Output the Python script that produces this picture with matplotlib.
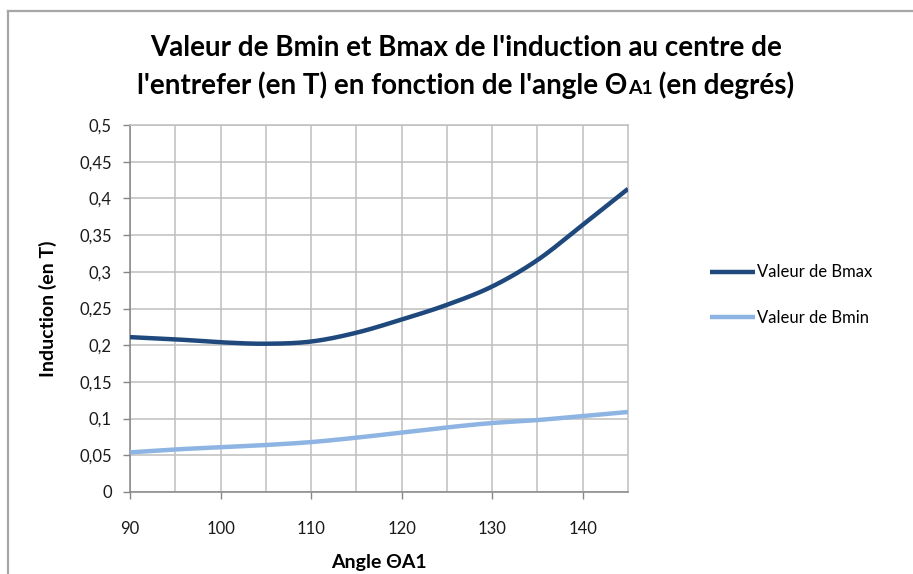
import numpy as np
import matplotlib
matplotlib.use("Agg")
import matplotlib.pyplot as plt
from matplotlib.lines import Line2D

# Measured values (angle in degrees, induction in tesla)
angles = [90, 95, 100, 105, 110, 115, 120, 125, 130, 135, 140, 145]
b_max = [0.211, 0.208, 0.204, 0.202, 0.205, 0.217, 0.235, 0.255, 0.280, 0.316, 0.364, 0.413]
b_min = [0.054, 0.058, 0.061, 0.064, 0.068, 0.074, 0.081, 0.088, 0.094, 0.098, 0.1035, 0.109]

x_ticks = [90, 100, 110, 120, 130, 140]
y_ticks = [0, 0.05, 0.1, 0.15, 0.2, 0.25, 0.3, 0.35, 0.4, 0.45, 0.5]
y_labels = ["0", "0,05", "0,1", "0,15", "0,2", "0,25", "0,3", "0,35", "0,4", "0,45", "0,5"]

series_names = ["Valeur de Bmax", "Valeur de Bmin"]
series_colors = ["#1f497d", "#8db4e2"]

title_line1 = "Valeur de Bmin et Bmax de l'induction au centre de"
title_line2 = ["l'entrefer (en T) en fonction de l'angle Θ", "A1", " (en degrés)"]


def smooth(xs, ys, n=30):
    """Catmull-Rom curve through the points, as spreadsheet 'smoothed lines' do."""
    xs = np.asarray(xs, float)
    ys = np.asarray(ys, float)
    px = np.concatenate([[2 * xs[0] - xs[1]], xs, [2 * xs[-1] - xs[-2]]])
    py = np.concatenate([[2 * ys[0] - ys[1]], ys, [2 * ys[-1] - ys[-2]]])
    ox, oy = [], []
    t = np.linspace(0, 1, n, endpoint=False)
    for i in range(1, len(px) - 2):
        for p, out in ((px, ox), (py, oy)):
            p0, p1, p2, p3 = p[i - 1], p[i], p[i + 1], p[i + 2]
            out.extend(0.5 * ((2 * p1) + (-p0 + p2) * t
                              + (2 * p0 - 5 * p1 + 4 * p2 - p3) * t ** 2
                              + (-p0 + 3 * p1 - 3 * p2 + p3) * t ** 3))
    ox.append(xs[-1])
    oy.append(ys[-1])
    return np.array(ox), np.array(oy)


plt.rcParams["font.family"] = ["Lato", "DejaVu Sans"]

W, H = 913, 574
fig = plt.figure(figsize=(W / 100, H / 100), dpi=100)
fig.patch.set_facecolor("white")

# chart frame (top-left corner only; the rest runs off the image)
fig.add_artist(Line2D([8 / W, 8 / W], [0, 1 - 11 / H], color="#a6a6a6", lw=1.6,
                      transform=fig.transFigure))
fig.add_artist(Line2D([8 / W, 1], [1 - 11 / H, 1 - 11 / H], color="#a6a6a6", lw=1.6,
                      transform=fig.transFigure))

left, right = 130 / W, 628 / W
bottom, top = 1 - 492 / H, 1 - 125 / H
ax = fig.add_axes([left, bottom, right - left, top - bottom])

for name, vals, col in zip(series_names, [b_max, b_min], series_colors):
    sx, sy = smooth(angles, vals)
    ax.plot(sx, sy, color=col, lw=3.2, solid_capstyle="butt", label=name, zorder=3)

ax.set_xlim(90, 145)
ax.set_ylim(0, 0.5)
ax.set_xticks(x_ticks)
ax.set_xticks(np.arange(95, 145, 10), minor=True)
ax.set_yticks(y_ticks)
ax.set_yticklabels(y_labels)
ax.grid(True, which="both", color="#bfbfbf", lw=1.1)
ax.set_axisbelow(True)

for s in ["top", "right"]:
    ax.spines[s].set_color("#bfbfbf")
    ax.spines[s].set_linewidth(1.1)
for s in ["left", "bottom"]:
    ax.spines[s].set_color("#868686")
    ax.spines[s].set_linewidth(1.1)

ax.tick_params(axis="both", which="major", direction="out", length=5, width=1.0,
               color="#868686", labelsize=12, labelcolor="#1a1a1a")
ax.tick_params(axis="x", which="major", pad=16)
ax.tick_params(axis="y", which="major", pad=8)
ax.tick_params(axis="x", which="minor", length=0)

ax.set_xlabel("Angle ΘA1", fontsize=14, fontweight="bold", labelpad=12)
ax.set_ylabel("Induction (en T)", fontsize=14, fontweight="bold", labelpad=16)

# title, first line
fig.text(466 / W, 1 - 56 / H, title_line1, ha="center", va="baseline",
         fontsize=20, fontweight="bold")

# title, second line with small "A1" after Θ
fig.canvas.draw()
renderer = fig.canvas.get_renderer()
sizes = [20, 14, 20]
pieces = []
for txt, sz in zip(title_line2, sizes):
    t = fig.text(0, 1 - 94 / H, txt, ha="left", va="baseline", fontsize=sz, fontweight="bold")
    pieces.append(t)
widths = [p.get_window_extent(renderer).width for p in pieces]
x0 = 466 - sum(widths) / 2
for p, w in zip(pieces, widths):
    p.set_x(x0 / W)
    x0 += w

leg = ax.legend(loc="center left", bbox_to_anchor=(1.135, 0.537), frameon=False,
                fontsize=12, handlelength=2.7, handletextpad=0.1, labelspacing=1.75)
for h in leg.get_lines():
    h.set_linewidth(3.2)

fig.savefig("out.png", dpi=100, facecolor="white")
